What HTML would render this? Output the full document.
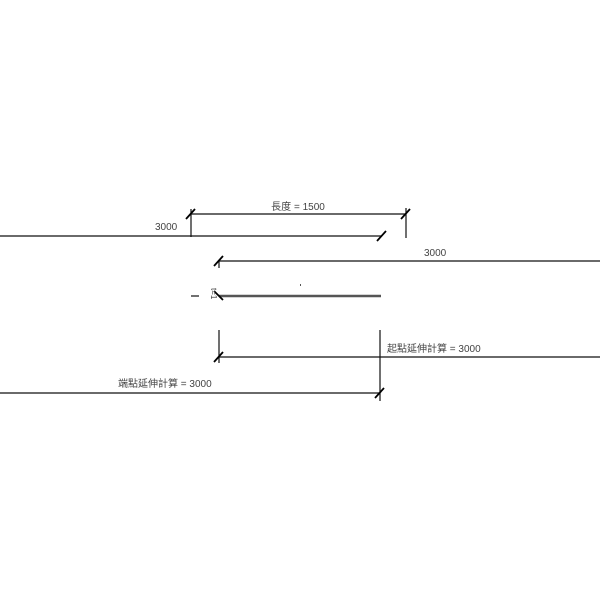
<!DOCTYPE html>
<html><head><meta charset="utf-8"><style>
html,body{margin:0;padding:0;background:#fff;width:600px;height:600px;overflow:hidden}
text{font-family:"Liberation Sans","Noto Sans CJK TC",sans-serif;font-size:10px;fill:#444}
</style></head><body>
<svg width="600" height="600" viewBox="0 0 600 600" xmlns="http://www.w3.org/2000/svg">
<g stroke="#111" stroke-width="1.2" fill="none">
<line x1="0" y1="236" x2="382" y2="236"/>
<line x1="191" y1="209" x2="191" y2="237"/>
<line x1="191" y1="214" x2="406" y2="214"/>
<line x1="406" y1="208" x2="406" y2="238"/>
<line x1="219" y1="261" x2="600" y2="261"/>
<line x1="219" y1="261" x2="219" y2="268"/>
<line x1="219" y1="296" x2="381" y2="296" stroke="#555" stroke-width="2.5"/>
<line x1="191" y1="296" x2="199" y2="296"/>
<line x1="219" y1="330" x2="219" y2="363"/>
<line x1="219" y1="357" x2="600" y2="357"/>
<line x1="380" y1="330" x2="380" y2="401"/>
<line x1="0" y1="393" x2="380" y2="393"/>
</g>
<g stroke="#000" stroke-width="1.8">
<line x1="377" y1="241" x2="386" y2="231"/>
<line x1="186" y1="219" x2="195" y2="209"/>
<line x1="401" y1="219" x2="410" y2="209"/>
<line x1="214" y1="266" x2="223" y2="256"/>
<line x1="214" y1="291" x2="223" y2="300"/>
<line x1="214" y1="362" x2="223" y2="352"/>
<line x1="375" y1="398" x2="384" y2="388"/>
</g>
<rect x="300" y="284" width="1" height="2" fill="#555"/>
<text x="298" y="210" text-anchor="middle">長度 = 1500</text>
<text x="155" y="230">3000</text>
<text x="424" y="256">3000</text>
<text x="387" y="352">起點延伸計算 = 3000</text>
<text x="118" y="387">端點延伸計算 = 3000</text>
<text x="0" y="0" transform="translate(211,288) rotate(90)" style="font-size:8px">t=1</text>
</svg>
</body></html>
